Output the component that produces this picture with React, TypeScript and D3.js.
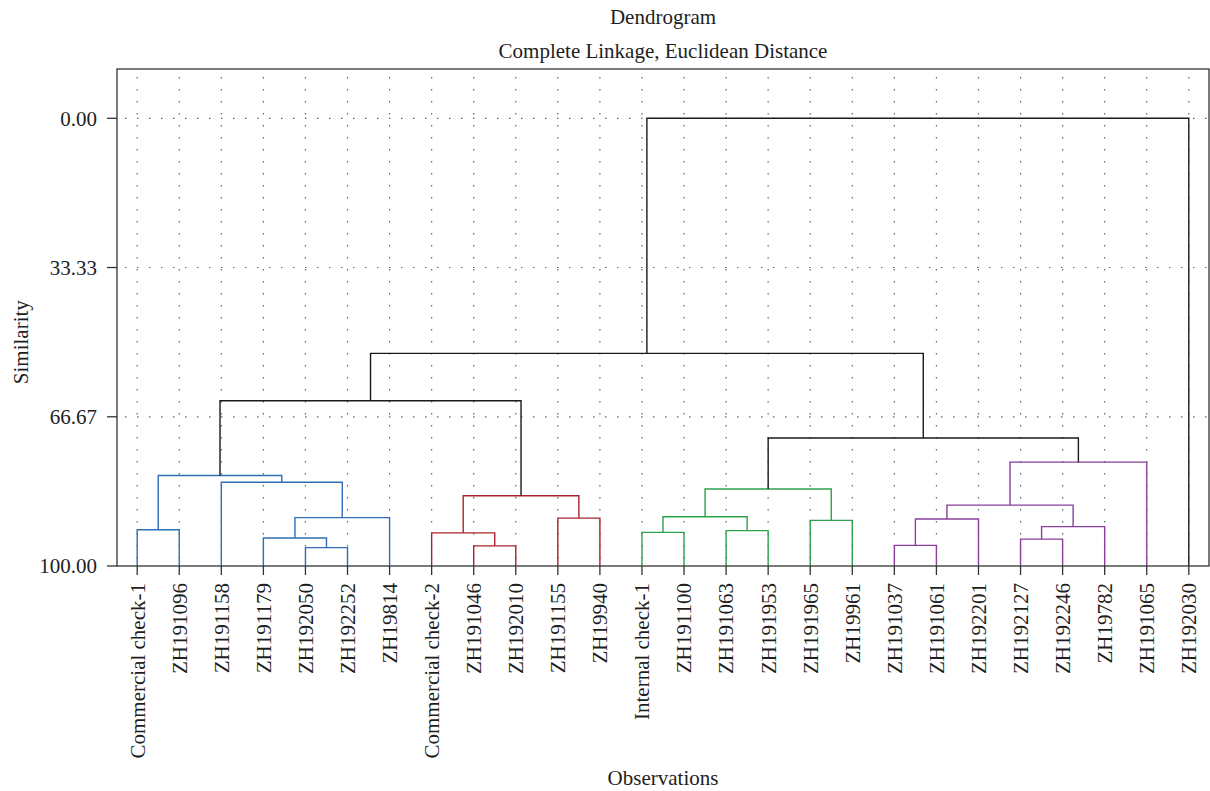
import * as d3 from "d3";

// leaf order as drawn along the x axis
const leaves = [
  "Commercial check-1", "ZH191096", "ZH191158", "ZH191179", "ZH192050", "ZH192252", "ZH19814",
  "Commercial check-2", "ZH191046", "ZH192010", "ZH191155", "ZH19940",
  "Internal check-1", "ZH191100", "ZH191063", "ZH191953", "ZH191965", "ZH19961",
  "ZH191037", "ZH191061", "ZH192201", "ZH192127", "ZH192246", "ZH19782", "ZH191065", "ZH192030",
];

// merges: [left, right, similarity, cluster]; ids >= 26 refer to earlier merges (26 + index)
const merges: [number, number, number, string][] = [
  [4, 5, 95.9, "blue"],     // 26
  [3, 26, 93.75, "blue"],   // 27
  [0, 1, 91.9, "blue"],     // 28
  [27, 6, 89.2, "blue"],    // 29
  [2, 29, 81.3, "blue"],    // 30
  [28, 30, 79.8, "blue"],   // 31
  [8, 9, 95.5, "red"],      // 32
  [7, 32, 92.6, "red"],     // 33
  [10, 11, 89.3, "red"],    // 34
  [33, 34, 84.3, "red"],    // 35
  [12, 13, 92.5, "green"],  // 36
  [14, 15, 92.1, "green"],  // 37
  [16, 17, 89.8, "green"],  // 38
  [36, 37, 89.0, "green"],  // 39
  [39, 38, 82.8, "green"],  // 40
  [18, 19, 95.4, "purple"], // 41
  [41, 20, 89.5, "purple"], // 42
  [21, 22, 94.0, "purple"], // 43
  [43, 23, 91.2, "purple"], // 44
  [42, 44, 86.4, "purple"], // 45
  [45, 24, 76.8, "purple"], // 46
  [31, 35, 63.1, "none"],   // 47
  [40, 46, 71.4, "none"],   // 48
  [47, 48, 52.5, "none"],   // 49
  [49, 25, 0.0, "none"],    // 50
];

const yTicks = [0, 33.33, 66.67, 100];

const colors: Record<string, string> = {
  blue: "#2f6fb7",
  red: "#a8232c",
  green: "#2ea14e",
  purple: "#8a3f9b",
  none: "#1a1a1a",
};

const W = 1210;
const H = 791;
const frame = { left: 117, right: 1209, top: 69, bottom: 566 };
const font = "'Liberation Serif', 'Times New Roman', serif";
const fs = 21;
const ink = "#1e1e1e";

export default function App() {
  const x = d3
    .scalePoint<string>()
    .domain(leaves)
    .range([frame.left, frame.right])
    .padding(0.48);

  const y = d3.scaleLinear().domain([0, 100]).range([118.3, frame.bottom]);

  // position of every node (leaves first, then merges)
  const nodeX: number[] = leaves.map((l) => x(l) as number);
  const nodeY: number[] = leaves.map(() => 100);
  merges.forEach(([a, b, h]) => {
    nodeX.push((nodeX[a] + nodeX[b]) / 2);
    nodeY.push(h);
  });

  const links = merges.map(([a, b, h, c], i) => {
    const path = d3.path();
    path.moveTo(nodeX[a], y(nodeY[a]));
    path.lineTo(nodeX[a], y(h));
    path.lineTo(nodeX[b], y(h));
    path.lineTo(nodeX[b], y(nodeY[b]));
    return { d: path.toString(), color: colors[c], key: i };
  });

  return (
    <svg width={W} height={H} style={{ position: "absolute", left: 0, top: 0 }} fontFamily={font}>
      <rect width={W} height={H} fill="#fff" />
      <text x={(frame.left + frame.right) / 2} y={24} textAnchor="middle" fontSize={fs} fill={ink}>
        Dendrogram
      </text>
      <text x={(frame.left + frame.right) / 2} y={58} textAnchor="middle" fontSize={fs} fill={ink}>
        Complete Linkage, Euclidean Distance
      </text>

      {/* grid */}
      {leaves.map((l) => (
        <line
          key={"gx" + l}
          x1={x(l)}
          x2={x(l)}
          y1={frame.top + 8}
          y2={frame.bottom}
          stroke="#666"
          strokeWidth={1.2}
          strokeDasharray="1.5 10.5"
        />
      ))}
      {yTicks.slice(0, 3).map((t) => (
        <line
          key={"gy" + t}
          x1={frame.left + 8}
          x2={frame.right}
          y1={y(t)}
          y2={y(t)}
          stroke="#666"
          strokeWidth={1.2}
          strokeDasharray="1.5 10.5"
        />
      ))}

      {/* dendrogram links */}
      {links.map((l) => (
        <path key={l.key} d={l.d} fill="none" stroke={l.color} strokeWidth={1.4} />
      ))}

      {/* frame */}
      <rect
        x={frame.left}
        y={frame.top}
        width={frame.right - frame.left}
        height={frame.bottom - frame.top}
        fill="none"
        stroke="#333"
        strokeWidth={1.3}
      />

      {/* y axis */}
      {yTicks.map((t) => (
        <g key={"yt" + t}>
          <line x1={frame.left - 10} x2={frame.left} y1={y(t)} y2={y(t)} stroke="#333" strokeWidth={1.3} />
          <text x={frame.left - 20} y={y(t)} dy="0.35em" textAnchor="end" fontSize={fs} fill={ink}>
            {t.toFixed(2)}
          </text>
        </g>
      ))}
      <text
        transform={`translate(28,${(y(0) + y(100)) / 2}) rotate(-90)`}
        textAnchor="middle"
        fontSize={fs}
        fill={ink}
      >
        Similarity
      </text>

      {/* x axis */}
      {leaves.map((l) => (
        <g key={"xt" + l}>
          <line x1={x(l)} x2={x(l)} y1={frame.bottom} y2={frame.bottom + 9} stroke="#333" strokeWidth={1.3} />
          <text
            transform={`translate(${x(l)},${frame.bottom + 17}) rotate(-90)`}
            dy="0.35em"
            textAnchor="end"
            fontSize={fs}
            fill={ink}
          >
            {l}
          </text>
        </g>
      ))}
      <text x={(frame.left + frame.right) / 2} y={785} textAnchor="middle" fontSize={fs} fill={ink}>
        Observations
      </text>
    </svg>
  );
}
